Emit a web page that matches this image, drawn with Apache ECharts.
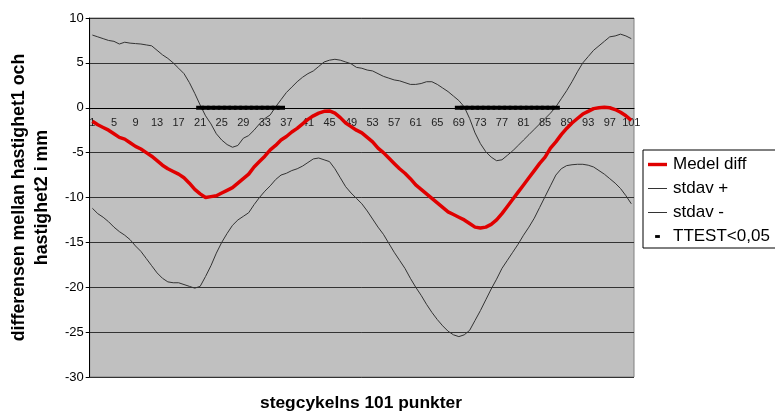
<!DOCTYPE html>
<html>
<head>
<meta charset="utf-8">
<script src="https://cdn.jsdelivr.net/npm/echarts@6/dist/echarts.min.js"></script>
<style>
  html, body { margin: 0; padding: 0; background: #fff; }
  #chart { width: 775px; height: 416px; }
</style>
</head>
<body>
<div id="chart"></div>
<script>
// steg 1..101
var punkter = [];
for (var i = 1; i <= 101; i++) punkter.push(String(i));

var medelDiff = [
  -1.5, -1.9, -2.2, -2.5, -2.9, -3.3, -3.5, -3.9, -4.3, -4.6,
  -5.0, -5.4, -5.9, -6.4, -6.8, -7.1, -7.4, -7.8, -8.4, -9.1,
  -9.6, -10.0, -9.9, -9.8, -9.5, -9.2, -8.9, -8.4, -7.9, -7.4,
  -6.6, -6.0, -5.4, -4.7, -4.2, -3.6, -3.2, -2.7, -2.3, -1.8,
  -1.3, -0.9, -0.6, -0.4, -0.35, -0.6, -1.1, -1.7, -2.1, -2.5,
  -2.8, -3.3, -3.8, -4.5, -5.0, -5.6, -6.2, -6.8, -7.3, -7.9,
  -8.6, -9.1, -9.6, -10.1, -10.6, -11.1, -11.6, -11.9, -12.2, -12.5,
  -12.9, -13.3, -13.4, -13.3, -13.0, -12.5, -11.8, -11.0, -10.2, -9.4,
  -8.6, -7.8, -7.0, -6.2, -5.5, -4.5, -3.8, -3.0, -2.3, -1.7,
  -1.2, -0.7, -0.4, -0.1, 0, 0.05, 0, -0.2, -0.5, -0.9,
  -1.4
];

var stdavPlus = [
  8.1, 7.9, 7.7, 7.5, 7.4, 7.1, 7.3, 7.2, 7.15, 7.1,
  7.0, 6.9, 6.4, 5.9, 5.5, 5.0, 4.4, 3.8, 2.8, 1.6,
  0.3, -0.9, -1.8, -2.9, -3.6, -4.1, -4.4, -4.2, -3.4, -3.1,
  -2.5, -1.8, -1.2, -0.8, 0.1, 0.9, 1.7, 2.3, 2.9, 3.4,
  3.8, 4.1, 4.6, 5.1, 5.3, 5.4, 5.3, 5.1, 4.9, 4.5,
  4.4, 4.2, 4.1, 3.8, 3.5, 3.3, 3.1, 3.0, 2.8, 2.6,
  2.6, 2.7, 2.9, 2.9, 2.6, 2.2, 1.8, 1.3, 0.8, 0.1,
  -1.2, -2.8, -4.0, -4.9, -5.5, -5.9, -5.8, -5.3, -4.8, -4.2,
  -3.6, -3.0, -2.4, -1.8, -1.2, -0.6, 0.1, 1.0, 1.9, 2.9,
  4.0, 5.0, 5.7, 6.4, 6.9, 7.4, 7.9, 8.0, 8.2, 8.0,
  7.7
];

var stdavMinus = [
  -11.2, -11.8, -12.2, -12.7, -13.3, -13.8, -14.2, -14.7, -15.4, -16.0,
  -16.8, -17.6, -18.4, -19.0, -19.4, -19.5, -19.5, -19.7, -19.9, -20.1,
  -19.9, -18.8, -17.6, -16.2, -15.0, -14.0, -13.1, -12.5, -12.1, -11.7,
  -10.8, -10.0, -9.3, -8.7, -8.0, -7.5, -7.3, -7.0, -6.8, -6.5,
  -6.1, -5.7, -5.6, -5.8, -6.0, -6.8, -7.8, -8.8, -9.5, -10.1,
  -10.7, -11.5, -12.4, -13.3, -14.1, -15.1, -16.1, -17.0, -17.9, -19.0,
  -20.0, -20.9, -21.9, -22.8, -23.6, -24.3, -24.9, -25.3, -25.5, -25.3,
  -24.8, -23.7, -22.6, -21.4, -20.2, -19.1, -17.9, -17.0, -16.1, -15.2,
  -14.2, -13.3, -12.3, -11.1, -9.9, -8.7, -7.5, -6.8, -6.45, -6.35,
  -6.3, -6.3, -6.4, -6.6, -7.0, -7.4, -7.9, -8.4, -9.0, -9.8,
  -10.7
];

// punkter där TTEST<0,05 (markeras på nollinjen)
var ttestPunkter = [21, 22, 23, 24, 25, 26, 27, 28, 29, 30, 31, 32, 33, 34, 35, 36,
  69, 70, 71, 72, 73, 74, 75, 76, 77, 78, 79, 80, 81, 82, 83, 84, 85, 86, 87];
var ttest = punkter.map(function (p) {
  return ttestPunkter.indexOf(Number(p)) >= 0 ? 0 : null;
});

var yMin = -30, yMax = 10;

// plot area
var gridLeft = 88, gridRight = 141, gridTop = 18, gridBottom = 39;
var gridW = 775 - gridLeft - gridRight, gridH = 416 - gridTop - gridBottom;
// x-axeln ligger på y = 0
var zeroOffset = -gridH * (0 - yMin) / (yMax - yMin);

var chart = echarts.init(document.getElementById('chart'));
chart.setOption({
  animation: false,
  textStyle: { fontFamily: 'Liberation Sans, Arial, sans-serif' },
  grid: {
    left: gridLeft, right: gridRight, top: gridTop, bottom: gridBottom,
    show: true,
    backgroundColor: '#c0c0c0',
    borderColor: '#808080',
    borderWidth: 1
  },
  legend: {
    orient: 'vertical',
    left: 643, top: 150,
    padding: [6, 30, 3, 5],
    itemGap: 7,
    itemWidth: 19,
    itemHeight: 14,
    borderColor: '#000',
    borderWidth: 1,
    textStyle: { fontSize: 17, color: '#000', padding: [0, 0, 0, 1] },
    data: [
      { name: 'Medel diff', icon: 'path://M0,0M19,14M0,5.3h19v3.4h-19z' },
      { name: 'stdav +', icon: 'path://M0,0M19,14M0,6.5h19v1h-19z' },
      { name: 'stdav -', icon: 'path://M0,0M19,14M0,6.5h19v1h-19z' },
      { name: 'TTEST<0,05', icon: 'path://M0,0M20,14M7.5,5.5h5v3h-5z' }
    ]
  },
  graphic: [{
    type: 'text',
    x: gridLeft + gridW / 2,
    y: 403,
    style: {
      text: 'stegcykelns 101 punkter',
      fontSize: 17.4, fontWeight: 'bold', fill: '#000',
      fontFamily: 'Liberation Sans, Arial, sans-serif',
      align: 'center',
      verticalAlign: 'middle'
    }
  }],
  xAxis: {
    type: 'category',
    data: punkter,
    boundaryGap: true,
    position: 'bottom',
    offset: zeroOffset,
    axisLine: { onZero: false, lineStyle: { color: '#000', width: 1 } },
    axisTick: { interval: 0, length: 4, lineStyle: { color: '#000' } },
    axisLabel: { interval: 3, fontSize: 11, color: '#222', margin: 10 },
    splitLine: { show: false }
  },
  yAxis: {
    type: 'value',
    min: yMin,
    max: yMax,
    interval: 5,
    name: 'differensen mellan hastighet1 och\nhastighet2 i mm',
    nameLocation: 'middle',
    nameGap: 33,
    nameTextStyle: { fontSize: 17.8, fontWeight: 'bold', color: '#000', lineHeight: 23 },
    axisLine: { show: true, lineStyle: { color: '#000' } },
    axisTick: { show: true, length: 4, lineStyle: { color: '#000' } },
    axisLabel: { fontSize: 13, color: '#000', margin: 6 },
    splitLine: { lineStyle: { color: '#333', width: 1 } }
  },
  series: [
    {
      name: 'Medel diff',
      type: 'line',
      data: medelDiff,
      symbol: 'none',
      z: 4,
      lineStyle: { color: '#e00000', width: 3.5 },
      itemStyle: { color: '#e00000' }
    },
    {
      name: 'stdav +',
      type: 'line',
      data: stdavPlus,
      symbol: 'none',
      lineStyle: { color: '#333', width: 1 },
      itemStyle: { color: '#333' }
    },
    {
      name: 'stdav -',
      type: 'line',
      data: stdavMinus,
      symbol: 'none',
      lineStyle: { color: '#333', width: 1 },
      itemStyle: { color: '#333' }
    },
    {
      name: 'TTEST<0,05',
      type: 'scatter',
      data: ttest,
      symbol: 'rect',
      symbolSize: [8, 4],
      z: 3,
      itemStyle: { color: '#000', opacity: 1 }
    }
  ]
});
</script>
</body>
</html>
